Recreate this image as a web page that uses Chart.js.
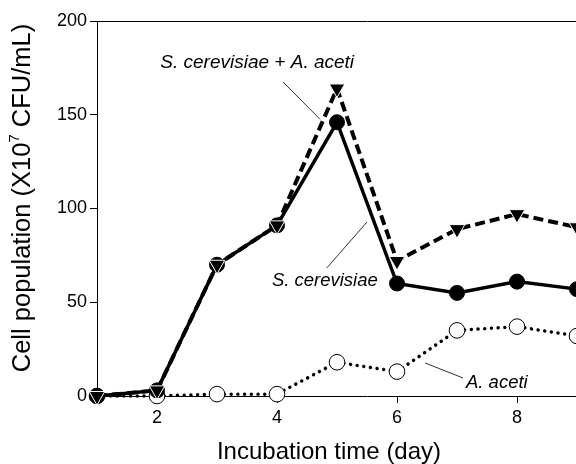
<!DOCTYPE html>
<html>
<head>
<meta charset="utf-8">
<script src="https://cdn.jsdelivr.net/npm/chart.js@4.4.0/dist/chart.umd.min.js"></script>
<style>
  html, body { margin: 0; padding: 0; background: #fff; overflow: hidden; }
  #wrap { width: 576px; height: 464px; overflow: hidden; }
</style>
</head>
<body>
<div id="wrap"><canvas id="myChart" width="647" height="464"></canvas></div>
<script>
// incubation days
const days = [1, 2, 3, 4, 5, 6, 7, 8, 9];
const xTicks = [2, 4, 6, 8, 10];

// cell population (X10^7 CFU/mL)
const sCerevisiae = [0, 3, 70, 91, 146, 60, 55, 61, 57];
const sCerevisiaeAAceti = [0, 3, 70, 91, 164, 72, 89, 97, 90];
const aAceti = [0, 0, 1, 1, 18, 13, 35, 37, 32];

// labels with leader lines, in data units
const notes = [
  { text: 'S. cerevisiae + A. aceti', x: 3.67, y: 178, size: 19, align: 'center', line: [4.1, 167.5, 4.72, 147.5] },
  { text: 'S. cerevisiae', x: 5.68, y: 61.5, size: 18.5, align: 'right', line: [4.83, 68.3, 5.5, 92.8] },
  { text: 'A. aceti', x: 7.15, y: 6.9, size: 18.5, align: 'left', line: [6.47, 17.6, 7.1, 9.6] }
];

const fontFamily = '"Liberation Sans", Arial, sans-serif';

const toXY = arr => arr.map((v, i) => ({ x: days[i], y: v }));

// draw the italic labels and their thin pointer lines
const notesPlugin = {
  id: 'notes',
  afterDatasetsDraw(chart) {
    const ctx = chart.ctx;
    const xs = chart.scales.x;
    const ys = chart.scales.y;
    ctx.save();
    ctx.strokeStyle = '#333';
    ctx.lineWidth = 1;
    ctx.fillStyle = '#000';
    ctx.textBaseline = 'middle';
    notes.forEach(n => {
      ctx.beginPath();
      ctx.moveTo(xs.getPixelForValue(n.line[0]), ys.getPixelForValue(n.line[1]));
      ctx.lineTo(xs.getPixelForValue(n.line[2]), ys.getPixelForValue(n.line[3]));
      ctx.stroke();
      ctx.font = 'italic ' + n.size + 'px ' + fontFamily;
      ctx.textAlign = n.align;
      ctx.fillText(n.text, xs.getPixelForValue(n.x), ys.getPixelForValue(n.y));
    });
    ctx.restore();
  }
};

// axis titles (the y one needs a real superscript 7)
const axisTitles = {
  id: 'axisTitles',
  afterDraw(chart) {
    const ctx = chart.ctx;
    const area = chart.chartArea;
    ctx.save();
    ctx.fillStyle = '#000';
    ctx.textBaseline = 'middle';
    ctx.textAlign = 'center';
    ctx.font = '24px ' + fontFamily;
    ctx.fillText('Incubation time (day)', area.left + 232, 452);

    const big = '25.5px ' + fontFamily;
    const small = '15px ' + fontFamily;
    const parts = [
      { t: 'Cell population (X10', f: big, dy: 0 },
      { t: '7', f: small, dy: -8 },
      { t: ' CFU/mL)', f: big, dy: 0 }
    ];
    let total = 0;
    parts.forEach(p => { ctx.font = p.f; p.w = ctx.measureText(p.t).width; total += p.w; });
    ctx.translate(23, area.top + 177);
    ctx.rotate(-Math.PI / 2);
    ctx.textAlign = 'left';
    let x = -total / 2;
    parts.forEach(p => {
      ctx.font = p.f;
      ctx.fillText(p.t, x, p.dy);
      x += p.w;
    });
    ctx.restore();
  }
};

const ctx = document.getElementById('myChart').getContext('2d');

const chart = new Chart(ctx, {
  type: 'line',
  data: {
    datasets: [
      {
        label: 'S. cerevisiae + A. aceti',
        data: toXY(sCerevisiaeAAceti),
        borderColor: '#000',
        borderWidth: 4,
        borderDash: [10, 5],
        pointStyle: 'triangle',
        rotation: 180,
        pointRadius: 9,
        pointBackgroundColor: '#000',
        pointBorderColor: '#fff',
        pointBorderWidth: 1,
        tension: 0,
        clip: false,
        order: 0
      },
      {
        label: 'S. cerevisiae',
        data: toXY(sCerevisiae),
        borderColor: '#000',
        borderWidth: 3.5,
        pointStyle: 'circle',
        pointRadius: 7.5,
        pointBackgroundColor: '#000',
        pointBorderColor: '#000',
        pointBorderWidth: 1,
        tension: 0,
        clip: false,
        order: 1
      },
      {
        label: 'A. aceti',
        data: toXY(aAceti),
        borderColor: '#000',
        borderWidth: 3.5,
        borderDash: [0.01, 6.7],
        borderCapStyle: 'round',
        pointStyle: 'circle',
        pointRadius: 7.8,
        pointBackgroundColor: '#fff',
        pointBorderColor: '#000',
        pointBorderWidth: 1,
        tension: 0,
        clip: false,
        order: 2
      }
    ]
  },
  options: {
    responsive: false,
    animation: false,
    events: [],
    layout: { padding: { top: 21, right: 9, left: 0, bottom: 0 } },
    plugins: {
      legend: { display: false },
      tooltip: { enabled: false }
    },
    scales: {
      x: {
        type: 'linear',
        position: 'bottom',
        min: 1,
        max: 10,
        afterBuildTicks: scale => { scale.ticks = xTicks.map(v => ({ value: v })); },
        afterFit: scale => { scale.height = 68; scale.paddingLeft = 0; scale.paddingRight = 0; },
        grid: { drawOnChartArea: false, tickLength: 7, tickColor: '#000', tickWidth: 1 },
        border: { display: true, color: '#000', width: 1 },
        ticks: { color: '#000', font: { family: fontFamily, size: 18 }, padding: 4, maxRotation: 0 },
        title: { display: false }
      },
      xTop: {
        type: 'linear',
        position: 'top',
        min: 1,
        max: 10,
        afterFit: scale => { scale.height = 0; scale.paddingLeft = 0; scale.paddingRight = 0; },
        grid: { display: false },
        ticks: { display: false },
        border: { display: true, color: '#000', width: 1 }
      },
      y: {
        min: 0,
        max: 200,
        afterFit: scale => { scale.width = 97; scale.paddingTop = 0; scale.paddingBottom = 0; },
        grid: { drawOnChartArea: false, tickLength: 7, tickColor: '#000', tickWidth: 1 },
        border: { display: true, color: '#000', width: 1 },
        ticks: { stepSize: 50, color: '#000', font: { family: fontFamily, size: 18 }, padding: 3 },
        title: { display: false }
      }
    }
  },
  plugins: [notesPlugin, axisTitles]
});
</script>
</body>
</html>
